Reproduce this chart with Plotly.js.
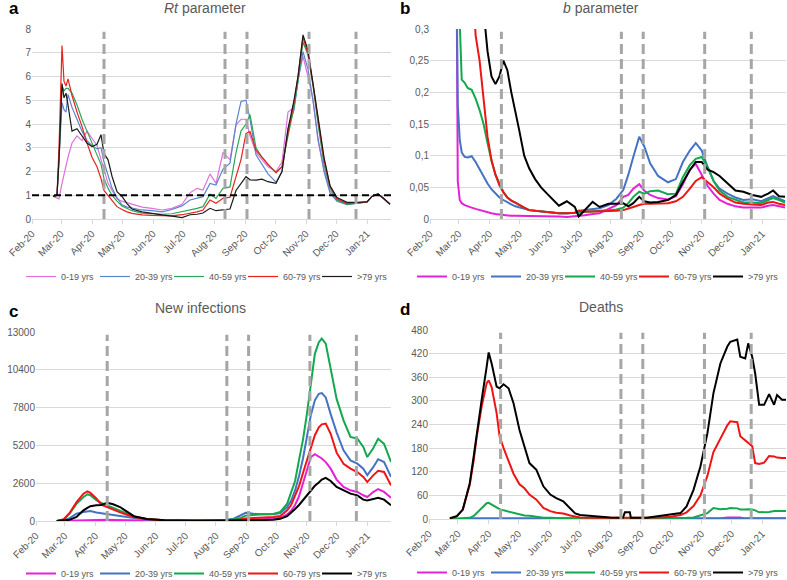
<!DOCTYPE html>
<html><head><meta charset="utf-8">
<script src="https://cdn.plot.ly/plotly-3.0.1.min.js"></script>
<style>html,body{margin:0;padding:0;background:#fff}#chart{width:787px;height:580px}</style>
</head><body><div id="chart"></div>
<script>
// ---------- DATA ----------
const groups = ['0-19 yrs', '20-39 yrs', '40-59 yrs', '60-79 yrs', '>79 yrs'];
const cutDates = ['2020-04-13', '2020-08-12', '2020-09-03', '2020-11-04', '2020-12-21'];
const rtThreshold = 1;

// Panel a: Rt parameter
const datesA = ['2020-02-22','2020-02-26','2020-02-28','2020-03-02','2020-03-04','2020-03-06','2020-03-08','2020-03-12','2020-03-17','2020-03-22','2020-03-27','2020-04-01','2020-04-06','2020-04-10','2020-04-13','2020-04-17','2020-04-21','2020-04-26','2020-05-01','2020-05-06','2020-05-11','2020-05-21','2020-05-31','2020-06-10','2020-06-20','2020-06-30','2020-07-08','2020-07-15','2020-07-21','2020-07-28','2020-08-03','2020-08-10','2020-08-17','2020-08-23','2020-08-28','2020-09-02','2020-09-06','2020-09-12','2020-09-18','2020-09-24','2020-10-02','2020-10-08','2020-10-14','2020-10-20','2020-10-24','2020-10-29','2020-11-03','2020-11-08','2020-11-13','2020-11-19','2020-11-25','2020-12-02','2020-12-12','2020-12-22','2021-01-01','2021-01-06','2021-01-12','2021-01-18','2021-01-24'];
const rt0_19  = [0.95,0.9,0.85,1.5,1.9,2.3,2.6,3.2,3.5,3.3,3.7,3.4,3.1,2.5,2.1,1.5,1.2,0.85,0.75,0.68,0.62,0.5,0.45,0.38,0.45,0.62,1.1,1.29,1.22,1.9,1.5,2.8,2.5,3.95,4.2,4.2,3.5,2.8,2.5,2.2,2.0,2.4,4.5,4.7,5.9,6.85,6.0,5.0,3.3,2.1,1.2,0.8,0.65,0.66,0.72,0.95,1.06,0.85,0.62];
const rt20_39 = [0.95,1.0,2.5,4.9,4.6,4.5,5.25,4.7,4.2,3.7,3.3,3.1,2.95,3.0,2.4,1.8,1.3,0.9,0.6,0.5,0.45,0.38,0.35,0.3,0.4,0.55,0.8,0.88,0.94,1.5,1.43,2.1,2.35,4.0,4.95,5.0,4.2,2.7,2.3,1.9,1.55,2.0,3.8,4.6,5.8,7.05,6.3,5.0,3.4,2.0,1.1,0.75,0.6,0.65,0.72,0.95,1.05,0.85,0.62];
const rt40_59 = [0.95,1.0,2.5,5.6,5.4,5.5,5.5,5.3,4.8,4.2,3.7,3.2,2.75,2.3,1.7,1.3,1.0,0.75,0.55,0.45,0.35,0.25,0.22,0.2,0.22,0.3,0.38,0.45,0.52,1.05,0.87,1.29,1.35,2.8,3.7,4.0,4.4,3.0,2.6,2.3,1.95,2.2,3.5,4.7,5.8,7.45,6.9,5.6,4.0,2.3,1.3,0.8,0.62,0.68,0.72,0.95,1.05,0.85,0.62];
const rt60_79 = [0.95,1.0,3.0,7.3,5.8,5.6,5.9,5.2,4.5,3.9,3.2,2.6,2.2,1.7,1.2,1.0,0.8,0.52,0.4,0.3,0.24,0.17,0.15,0.13,0.13,0.18,0.24,0.3,0.38,0.8,0.66,0.87,0.92,1.75,2.5,3.6,3.68,2.9,2.6,2.3,1.95,2.2,3.6,4.9,6.0,7.65,6.95,5.7,4.2,2.5,1.4,0.85,0.65,0.68,0.72,0.95,1.05,0.85,0.62];
const rt80p   = [0.95,1.0,2.5,5.7,5.1,5.3,4.8,3.7,3.8,3.5,3.2,3.05,3.15,3.55,2.75,2.5,1.8,1.15,0.95,0.65,0.42,0.3,0.22,0.17,0.12,0.06,0.18,0.2,0.25,0.45,0.35,0.4,0.42,1.2,1.5,1.78,1.65,1.64,1.68,1.57,1.5,2.0,3.8,5.0,6.0,7.75,7.1,5.6,4.3,2.6,1.4,0.9,0.7,0.7,0.72,0.95,1.05,0.85,0.62];

// Panel b: b parameter
const datesB = ['2020-02-22','2020-02-27','2020-02-28','2020-02-29','2020-03-02','2020-03-04','2020-03-07','2020-03-10','2020-03-14','2020-03-18','2020-03-22','2020-03-26','2020-03-30','2020-04-03','2020-04-07','2020-04-11','2020-04-15','2020-04-19','2020-04-23','2020-04-27','2020-05-01','2020-05-06','2020-05-11','2020-05-17','2020-05-23','2020-05-29','2020-06-04','2020-06-10','2020-06-18','2020-06-26','2020-06-30','2020-07-06','2020-07-14','2020-07-21','2020-07-30','2020-08-07','2020-08-14','2020-08-19','2020-08-24','2020-08-30','2020-09-04','2020-09-10','2020-09-18','2020-09-28','2020-10-06','2020-10-13','2020-10-20','2020-10-26','2020-11-01','2020-11-07','2020-11-13','2020-11-19','2020-11-27','2020-12-05','2020-12-13','2020-12-22','2020-12-31','2021-01-07','2021-01-12','2021-01-18','2021-01-24'];
const b0_19  = [2,0.5,0.2,0.06,0.03,0.025,0.022,0.02,0.018,0.016,0.014,0.013,0.011,0.009,0.008,0.007,0.006,0.006,0.005,0.005,0.005,0.005,0.004,0.004,0.004,0.004,0.004,0.004,0.003,0.004,0.005,0.006,0.008,0.009,0.016,0.022,0.035,0.038,0.048,0.055,0.045,0.038,0.033,0.031,0.036,0.055,0.078,0.087,0.07,0.052,0.04,0.03,0.024,0.02,0.018,0.018,0.018,0.021,0.022,0.02,0.018];
const b20_39 = [3,0.6,0.35,0.18,0.125,0.105,0.098,0.097,0.099,0.09,0.078,0.066,0.056,0.047,0.04,0.034,0.03,0.026,0.023,0.02,0.018,0.016,0.014,0.013,0.012,0.011,0.01,0.009,0.009,0.01,0.013,0.014,0.016,0.017,0.022,0.032,0.046,0.07,0.098,0.13,0.115,0.088,0.068,0.058,0.063,0.09,0.108,0.12,0.108,0.082,0.06,0.048,0.04,0.034,0.03,0.031,0.028,0.033,0.036,0.032,0.028];
const b40_59 = [3,1,0.8,0.6,0.31,0.22,0.215,0.207,0.204,0.19,0.172,0.15,0.12,0.092,0.07,0.056,0.043,0.034,0.029,0.026,0.022,0.018,0.014,0.013,0.012,0.011,0.01,0.009,0.009,0.009,0.01,0.011,0.012,0.013,0.014,0.015,0.018,0.025,0.035,0.043,0.04,0.044,0.045,0.039,0.04,0.066,0.085,0.095,0.098,0.082,0.06,0.045,0.035,0.03,0.026,0.026,0.025,0.03,0.033,0.03,0.026];
const b60_79 = [3,2,1.8,1.5,1.2,1.0,0.8,0.6,0.4,0.29,0.25,0.185,0.13,0.093,0.07,0.053,0.042,0.034,0.029,0.026,0.022,0.018,0.014,0.013,0.012,0.011,0.01,0.009,0.009,0.01,0.013,0.012,0.012,0.012,0.013,0.013,0.014,0.016,0.019,0.022,0.024,0.024,0.024,0.025,0.028,0.035,0.048,0.06,0.066,0.058,0.05,0.04,0.032,0.026,0.024,0.023,0.022,0.026,0.027,0.024,0.022];
const b80p   = [5,4,3.8,3.5,3,2.6,2.2,1.8,1.3,0.9,0.55,0.33,0.265,0.225,0.213,0.225,0.25,0.235,0.2,0.172,0.14,0.1,0.08,0.063,0.05,0.04,0.03,0.021,0.028,0.019,0.004,0.014,0.027,0.019,0.024,0.024,0.025,0.02,0.025,0.035,0.028,0.026,0.027,0.03,0.038,0.058,0.077,0.09,0.09,0.078,0.074,0.068,0.056,0.045,0.043,0.038,0.035,0.04,0.045,0.036,0.035];

// Panel c: New infections
const datesC = ['2020-02-22','2020-02-29','2020-03-06','2020-03-13','2020-03-20','2020-03-24','2020-03-27','2020-04-02','2020-04-07','2020-04-13','2020-04-19','2020-04-26','2020-05-03','2020-05-10','2020-05-23','2020-06-10','2020-07-10','2020-08-09','2020-08-19','2020-08-26','2020-08-31','2020-09-08','2020-09-16','2020-09-28','2020-10-05','2020-10-12','2020-10-16','2020-10-20','2020-10-24','2020-10-28','2020-11-01','2020-11-05','2020-11-09','2020-11-13','2020-11-16','2020-11-20','2020-11-25','2020-12-01','2020-12-08','2020-12-15','2020-12-22','2020-12-28','2021-01-01','2021-01-07','2021-01-12','2021-01-18','2021-01-25'];
const inf0_19  = [0,10,30,50,80,90,90,90,85,80,70,60,50,40,25,20,20,30,50,70,90,100,120,160,220,450,700,1100,1700,2600,3500,4400,4600,4450,4300,4050,3600,2850,2340,2110,2000,1770,1650,1990,2200,2000,1600];
const inf20_39 = [0,40,200,500,620,680,690,580,520,460,410,340,270,200,110,60,50,60,160,400,560,500,460,460,550,960,1400,2100,3100,4300,5800,7300,8300,8750,8800,8500,7350,6100,4860,4170,3940,3600,3150,3700,4250,4060,3030];
const inf40_59 = [0,90,500,1190,1650,1830,1770,1430,1250,1070,900,720,520,310,140,55,30,45,120,210,370,430,460,480,620,1190,1900,2750,4200,5600,7380,9600,11500,12300,12540,12200,10550,8400,6925,5780,5660,5090,4400,5000,5650,5300,4060];
const inf60_79 = [0,120,550,1300,1880,2040,1930,1550,1130,950,780,590,430,270,130,50,30,40,60,110,170,210,230,275,340,730,1100,1700,2400,3300,4170,5000,5900,6450,6650,6700,6000,4700,3940,3600,3370,3030,2680,3140,3450,3370,2450];
const inf80p   = [0,20,80,275,730,900,1020,1080,1100,1260,1150,960,620,330,140,50,20,20,20,30,40,50,60,90,150,330,560,830,1100,1450,1800,2150,2420,2650,2850,2970,2750,2340,2110,1880,1765,1470,1420,1500,1600,1470,1080];

// Panel d: Deaths
const datesD = ['2020-02-22','2020-02-29','2020-03-06','2020-03-13','2020-03-17','2020-03-20','2020-03-25','2020-03-30','2020-04-01','2020-04-04','2020-04-09','2020-04-12','2020-04-16','2020-04-21','2020-04-26','2020-05-02','2020-05-07','2020-05-12','2020-05-19','2020-05-26','2020-06-02','2020-06-08','2020-06-15','2020-06-22','2020-06-27','2020-07-02','2020-07-15','2020-08-01','2020-08-14','2020-08-16','2020-08-21','2020-08-22','2020-09-07','2020-09-20','2020-10-01','2020-10-11','2020-10-17','2020-10-24','2020-10-31','2020-11-07','2020-11-13','2020-11-20','2020-11-27','2020-11-30','2020-12-07','2020-12-10','2020-12-15','2020-12-18','2020-12-22','2020-12-25','2020-12-29','2021-01-03','2021-01-08','2021-01-13','2021-01-16','2021-01-21','2021-01-25'];
const d0_19  = [0,0,0,0,0,0,0,0,0,0,0,0,0,0,0,0,0,0,0,0,0,0,0,0,0,0,0,0,0,0,0,0,0,0,0,0,0,0,0,0,1,1,4,4,4,4,1,1,1,1,1,1,1,1,1,1,1];
const d20_39 = [0,0,1,1,2,2,2,2,2,2,2,2,2,2,2,2,2,2,2,2,2,2,2,2,2,2,2,2,2,2,2,2,2,2,2,2,2,2,2,2,2,2,2,2,2,2,2,2,2,2,2,2,2,2,2,2,2];
const d40_59 = [0,1,2,3,8,15,28,40,41,37,30,25,22,19,15,11,9,8,5,3,3,2,2,2,2,2,2,2,2,2,2,2,2,3,3,3,3,4,10,15,28,25,26,28,27,24,24,25,24,22,17,17,18,20,20,20,20];
const d60_79 = [1,7,24,87,150,210,286,345,352,335,269,210,180,145,115,88,78,62,49,28,20,16,14,9,6,4,3,3,3,3,3,3,3,4,6,10,17,33,60,110,170,205,238,248,246,210,200,195,185,142,140,143,160,159,156,155,155];
const d80p   = [2,7,24,91,160,218,303,387,423,395,336,332,342,332,294,226,184,142,125,83,62,53,45,28,14,10,7,4,3,17,17,3,3,8,11,15,32,74,134,218,319,395,438,450,456,412,408,446,412,370,290,290,317,290,315,303,303];

// Tick labels
const ticksA = [0,1,2,3,4,5,6,7,8];
const ticksB = [0,0.05,0.1,0.15,0.2,0.25,0.3];
const tickTextB = ['0','0,05','0,1','0,15','0,2','0,25','0,3'];
const ticksC = [0,2600,5200,7800,10400,13000];
const ticksD = [0,60,120,180,240,300,360,420,480];
const xRange = ['2020-02-01','2021-01-25'];

// ---------- STYLE / BUILD ----------
const W = 787, H = 580;
const colorsA = ['#e070dc','#5b84cc','#2aa65a','#e8231d','#1a1a1a'];
const colorsB = ['#e620d8','#4472c4','#12a84c','#f01414','#000000'];
const FONT = 'Liberation Sans, Arial, sans-serif';
const GRAY = '#595959';

function px(x){return x/W;}
function py(y){return 1 - y/H;}

const panels = [
  {dates:datesA, series:[rt0_19,rt20_39,rt40_59,rt60_79,rt80p], colors:colorsA, width:1.2, xa:'x', ya:'y', leg:'legend'},
  {dates:datesB, series:[b0_19,b20_39,b40_59,b60_79,b80p], colors:colorsB, width:2, xa:'x2', ya:'y2', leg:'legend2'},
  {dates:datesC, series:[inf0_19,inf20_39,inf40_59,inf60_79,inf80p], colors:colorsB, width:2, xa:'x3', ya:'y3', leg:'legend3'},
  {dates:datesD, series:[d0_19,d20_39,d40_59,d60_79,d80p], colors:colorsB, width:2, xa:'x4', ya:'y4', leg:'legend4'}
];

const traces = [];
panels.forEach(p => {
  p.series.forEach((vals, i) => {
    traces.push({
      type:'scatter', mode:'lines', x:p.dates, y:vals, name:groups[i],
      xaxis:p.xa, yaxis:p.ya, legend:p.leg,
      line:{color:p.colors[i], width:p.width}
    });
  });
});

function xAxis(dom, anchor){
  return {domain:dom, anchor:anchor, type:'date', range:xRange, tick0:'2020-02-01', dtick:'M1',
    tickformat:'%b-%y', tickangle:-45, ticks:'outside', ticklen:4, tickcolor:'#d9d9d9',
    showline:true, linecolor:'#d9d9d9', linewidth:1, showgrid:false, zeroline:false,
    tickfont:{family:FONT, size:10, color:GRAY}, fixedrange:true, automargin:false};
}
function yAxis(dom, anchor, range, vals, text){
  const a = {domain:dom, anchor:anchor, range:range, tickmode:'array', tickvals:vals,
    showgrid:true, gridcolor:'#d9d9d9', gridwidth:1, zeroline:false, showline:false, ticks:'',
    tickfont:{family:FONT, size:10, color:GRAY}, fixedrange:true, automargin:false};
  a.ticktext = text || vals.map(String);
  return a;
}

const shapes = [];
[['x','y'],['x2','y2'],['x3','y3'],['x4','y4']].forEach(([xa,ya]) => {
  cutDates.forEach(d => shapes.push({type:'line', xref:xa, yref:ya+' domain', x0:d, x1:d, y0:0, y1:0.985,
    line:{color:'#a6a6a6', width:3, dash:'10px,5px'}}));
});
shapes.push({type:'line', xref:'x domain', x0:0, x1:1, yref:'y', y0:rtThreshold, y1:rtThreshold,
  line:{color:'#000', width:2, dash:'7px,4px'}});

function legendAt(cx, top){
  return {orientation:'h', x:px(cx), y:py(top), xanchor:'center', yanchor:'top',
    font:{family:FONT, size:9, color:GRAY}, itemwidth:30, entrywidth:29, entrywidthmode:'pixels',
    bgcolor:'rgba(0,0,0,0)', tracegroupgap:0};
}

const annotations = [
  {text:'<b>a</b>', x:px(14), y:py(9)},
  {text:'<b>b</b>', x:px(405), y:py(9)},
  {text:'<b>c</b>', x:px(13), y:py(311)},
  {text:'<b>d</b>', x:px(405), y:py(309)}
].map(a => Object.assign(a, {xref:'paper', yref:'paper', showarrow:false, xanchor:'center', yanchor:'middle',
  font:{family:FONT, size:17, color:'#000'}}));
[
  {text:'<i>Rt</i> parameter', x:px(205), y:py(8)},
  {text:'<i>b</i> parameter', x:px(601), y:py(8)},
  {text:'New infections', x:px(200), y:py(308)},
  {text:'Deaths', x:px(601), y:py(307)}
].forEach(a => annotations.push(Object.assign(a, {xref:'paper', yref:'paper', showarrow:false,
  xanchor:'center', yanchor:'middle', font:{family:FONT, size:14, color:GRAY}})));

const layout = {
  width:W, height:H, margin:{l:0, r:0, t:0, b:0, autoexpand:false}, paper_bgcolor:'#fff', plot_bgcolor:'#fff',
  font:{family:FONT, color:GRAY}, hovermode:false,
  xaxis: xAxis([px(32), px(391)], 'y'),
  yaxis: yAxis([py(219), py(29)], 'x', [0,8], ticksA),
  xaxis2: xAxis([px(430), px(786)], 'y2'),
  yaxis2: yAxis([py(219), py(29)], 'x2', [0,0.3], ticksB, tickTextB),
  xaxis3: xAxis([px(36), px(391)], 'y3'),
  yaxis3: yAxis([py(521), py(332)], 'x3', [0,13000], ticksC),
  xaxis4: xAxis([px(429), px(786)], 'y4'),
  yaxis4: yAxis([py(519), py(330)], 'x4', [0,480], ticksD),
  legend: legendAt(206, 262),
  legend2: legendAt(597, 262),
  legend3: legendAt(206, 559),
  legend4: legendAt(597, 558),
  shapes: shapes,
  annotations: annotations
};

Plotly.newPlot('chart', traces, layout, {staticPlot:true, displayModeBar:false});
</script></body></html>
